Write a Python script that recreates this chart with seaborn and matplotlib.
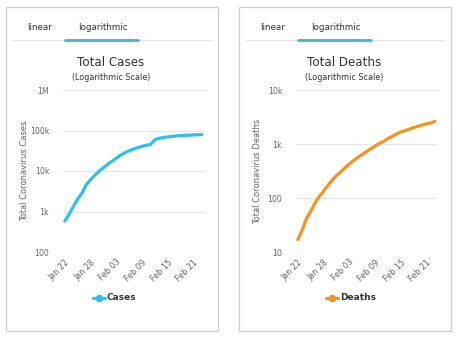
import matplotlib
matplotlib.use("Agg")
import matplotlib.pyplot as plt
from matplotlib.patches import Rectangle
from matplotlib.lines import Line2D
import seaborn as sns
import numpy as np
import pandas as pd

# Daily totals, Jan 22 to Feb 23
dates = pd.date_range("2020-01-22", "2020-02-23", freq="D")
cases = [580, 845, 1317, 2015, 2800, 4581, 6058, 7813, 9821, 11948, 14551,
         17389, 20628, 24553, 28276, 31439, 34876, 37552, 40553, 43099, 45170,
         59283, 64437, 67100, 69197, 71329, 73332, 75184, 75700, 76677, 77673,
         78651, 79205]
deaths = [17, 25, 41, 56, 80, 106, 132, 170, 213, 259, 304, 362, 426, 492,
          565, 638, 724, 813, 910, 1018, 1115, 1261, 1383, 1526, 1669, 1775,
          1873, 2009, 2126, 2247, 2360, 2460, 2618]
x_tick_days = [0, 6, 12, 18, 24, 30]
x_tick_labels = ["Jan 22", "Jan 28", "Feb 03", "Feb 09", "Feb 15", "Feb 21"]
cases_ticks = [100, 1e3, 1e4, 1e5, 1e6]
cases_tick_labels = ["100", "1k", "10k", "100k", "1M"]
deaths_ticks = [10, 100, 1e3, 1e4]
deaths_tick_labels = ["10", "100", "1k", "10k"]

sns.set_style("white")
plt.rcParams["font.family"] = ["DejaVu Sans"]

W, H = 460, 340
fig = plt.figure(figsize=(W / 100, H / 100), dpi=100)

def fx(px):
    return px / W

def fy(py):
    return 1 - py / H

days = np.arange(len(dates))
df = pd.DataFrame({"day": days, "Cases": cases, "Deaths": deaths})

panels = [
    dict(off=0, col="Cases", color="#2fbfea", title="Total Cases",
         ylabel="Total Coronavirus Cases", ylim=(100, 1e6),
         ticks=cases_ticks, labels=cases_tick_labels),
    dict(off=233, col="Deaths", color="#f39322", title="Total Deaths",
         ylabel="Total Coronavirus Deaths", ylim=(10, 1e4),
         ticks=deaths_ticks, labels=deaths_tick_labels),
]

for p in panels:
    o = p["off"]
    # card border
    fig.add_artist(Rectangle((fx(6 + o), fy(331)), fx(212), (324) / H,
                             transform=fig.transFigure, fill=False,
                             edgecolor="#cccccc", linewidth=0.9))
    # tab bar
    fig.text(fx(40 + o), fy(27), "linear", ha="center", va="center",
             fontsize=6.3, color="#333333")
    fig.text(fx(103 + o), fy(27), "logarithmic", ha="center", va="center",
             fontsize=6.3, color="#333333")
    fig.add_artist(Line2D([fx(12 + o), fx(212 + o)], [fy(39.5), fy(39.5)],
                          transform=fig.transFigure, color="#e6e6e6",
                          linewidth=0.8))
    fig.add_artist(Line2D([fx(65 + o), fx(138 + o)], [fy(39.5), fy(39.5)],
                          transform=fig.transFigure, color="#3fb3cf",
                          linewidth=2.0))
    # titles
    fig.text(fx(111 + o), fy(62), p["title"], ha="center", va="center",
             fontsize=8.6, color="#333333")
    fig.text(fx(111 + o), fy(78), "(Logarithmic Scale)", ha="center",
             va="center", fontsize=5.8, color="#333333")

    ax = fig.add_axes([fx(63 + o), fy(252), fx(142), 162 / H])
    sns.lineplot(data=df, x="day", y=p["col"], ax=ax, color=p["color"],
                 linewidth=2.3, solid_capstyle="round", legend=False)
    ax.set_yscale("log")
    ax.set_ylim(*p["ylim"])
    ax.set_xlim(-0.4, 32.7)
    ax.set_yticks(p["ticks"])
    ax.set_yticklabels(p["labels"])
    ax.yaxis.set_minor_locator(matplotlib.ticker.NullLocator())
    ax.set_xticks(x_tick_days)
    ax.set_xticklabels(x_tick_labels, rotation=45, ha="right",
                       rotation_mode="anchor")
    ax.tick_params(axis="y", length=0, pad=10, labelsize=5.6,
                   labelcolor="#666666")
    ax.tick_params(axis="x", length=0, pad=4, labelsize=5.8,
                   labelcolor="#666666")
    ax.grid(axis="y", color="#e6e6e6", linewidth=0.8)
    ax.grid(axis="x", visible=False)
    for s in ax.spines.values():
        s.set_visible(False)
    ax.set_xlabel("")
    ax.set_ylabel("")
    fig.text(fx(25 + o), fy(171), p["ylabel"], rotation=90, ha="center",
             va="center", fontsize=6.0, color="#666666")

    # legend item
    fig.add_artist(Line2D([fx(93 + o), fx(105 + o)], [fy(298), fy(298)],
                          transform=fig.transFigure, color=p["color"],
                          linewidth=2.3, solid_capstyle="round"))
    fig.add_artist(Line2D([fx(99 + o)], [fy(298)], transform=fig.transFigure,
                          color=p["color"], marker="o", markersize=4.5,
                          linestyle="none"))
    fig.text(fx(107 + o), fy(298), p["col"], ha="left", va="center",
             fontsize=6.5, color="#333333", fontweight="bold")

fig.savefig("out.png", dpi=100, facecolor="white")
